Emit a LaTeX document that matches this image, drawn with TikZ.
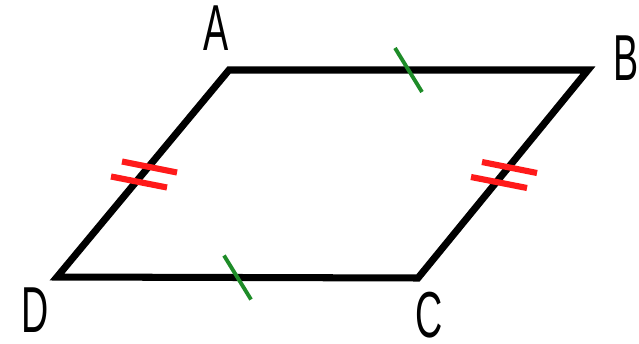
\documentclass[tikz,border=0pt]{standalone}
\usepackage{fontspec}
\newfontfamily\lblfont[FakeStretch=0.58]{Liberation Sans}
\usetikzlibrary{calc}
\definecolor{tickgreen}{HTML}{1E8C28}
\definecolor{tickred}{HTML}{FF1A1A}

\begin{document}
\begin{tikzpicture}[x=0.02cm, y=-0.02cm,
    font=\lblfont\fontsize{37}{40}\selectfont,
    side/.style={line width=4pt, line join=miter},
    gtick/.style={tickgreen, line width=2.2pt},
    rtick/.style={tickred, line width=3.5pt}]
  \useasboundingbox (0,0) rectangle (639,344);
  % corners
  \coordinate (A) at (229,70);
  \coordinate (B) at (588,70);
  \coordinate (C) at (418,278);
  \coordinate (D) at (57,277);
  \node[inner sep=0] (lA) at (216.5,28.5) {A};
  \node[inner sep=0] (lB) at (626.5,58.5) {B};
  \node[inner sep=0] (lC) at (429,315) {C};
  \node[inner sep=0] (lD) at (35,310.5) {D};
  \draw[side] (A) -- (B) -- (C) -- (D) -- cycle;
  % equal sides
  \foreach \p/\q in {A/B, D/C}{%
    \draw[gtick] ($(\p)!0.5!(\q)+(-13.5,-22)$) -- ($(\p)!0.5!(\q)+(13.5,22)$);}
  \foreach \p/\q in {A/D, B/C}{%
    \draw[rtick] ($(\p)!0.5!(\q)+(-21,-12)$) -- ($(\p)!0.5!(\q)+(34,-1)$);
    \draw[rtick] ($(\p)!0.5!(\q)+(-32,3)$) -- ($(\p)!0.5!(\q)+(24,14)$);}
\end{tikzpicture}
\end{document}
